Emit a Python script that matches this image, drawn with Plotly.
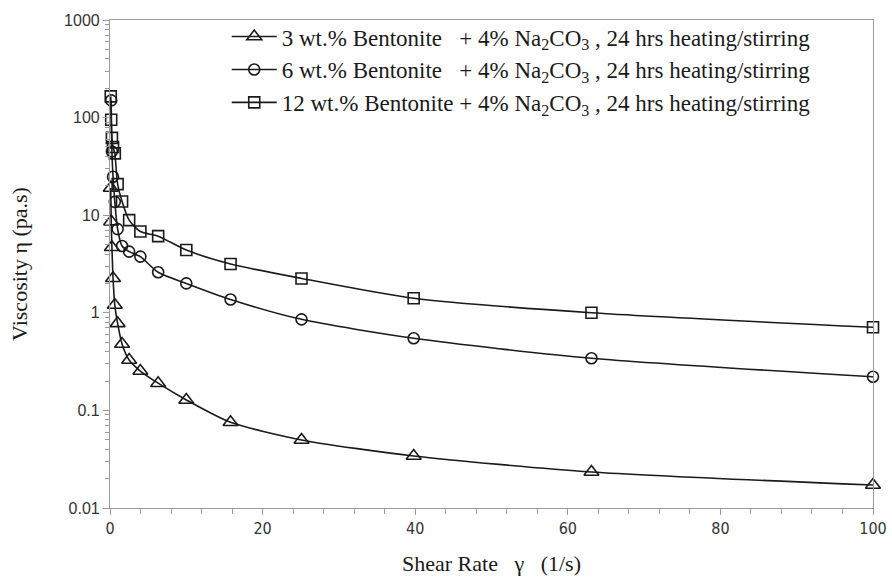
import plotly.graph_objects as go

# Shear rates (1/s)
shear_rate = [0.1, 0.158, 0.251, 0.398, 0.631, 1.0, 1.58, 2.51, 3.98, 6.31,
              10.0, 15.8, 25.1, 39.8, 63.1, 100.0]

# Viscosity (Pa.s)
visc_3 = [19.0, 8.6, 4.7, 2.26, 1.2, 0.78, 0.479, 0.328, 0.253, 0.19,
          0.128, 0.0755, 0.0498, 0.0341, 0.0234, 0.0172]
visc_6_x = [0.158, 0.251, 0.398, 0.631, 1.0, 1.58, 2.51, 3.98, 6.31,
            10.0, 15.8, 25.1, 39.8, 63.1, 100.0]
visc_6 = [150.0, 45.0, 24.8, 13.7, 7.2, 4.83, 4.23, 3.76, 2.6,
          2.0, 1.37, 0.857, 0.548, 0.342, 0.221]
visc_12 = [165.0, 95.0, 62.0, 50.0, 43.0, 20.8, 13.8, 8.9, 6.8, 6.1,
           4.4, 3.16, 2.25, 1.41, 1.0, 0.71]

series_names = [
    "3 wt.% Bentonite\u00a0\u00a0\u00a0+ 4% Na<sub>2</sub>CO<sub>3</sub> , 24 hrs heating/stirring",
    "6 wt.% Bentonite\u00a0\u00a0\u00a0+ 4% Na<sub>2</sub>CO<sub>3</sub> , 24 hrs heating/stirring",
    "12 wt.% Bentonite\u00a0+ 4% Na<sub>2</sub>CO<sub>3</sub> , 24 hrs heating/stirring",
]

y_tickvals = [0.01, 0.1, 1, 10, 100, 1000]
y_ticktext = ["0.01", "0.1", "1", "10", "100", "1000"]
x_tickvals = [0, 20, 40, 60, 80, 100]

SERIF = "Liberation Serif, Times New Roman, serif"

fig = go.Figure()

line_style = dict(color="#1a1a1a", width=1.6, shape="spline", smoothing=0.7)

fig.add_trace(go.Scatter(
    x=shear_rate, y=visc_3, mode="lines+markers", name=series_names[0],
    line=line_style, cliponaxis=False,
    marker=dict(symbol="triangle-up-open", size=13, color="#1a1a1a",
                line=dict(width=1.6, color="#1a1a1a")),
))
fig.add_trace(go.Scatter(
    x=visc_6_x, y=visc_6, mode="lines+markers", name=series_names[1],
    line=line_style, cliponaxis=False,
    marker=dict(symbol="circle-open", size=11, color="#1a1a1a",
                line=dict(width=1.6, color="#1a1a1a")),
))
fig.add_trace(go.Scatter(
    x=shear_rate, y=visc_12, mode="lines+markers", name=series_names[2],
    line=line_style, cliponaxis=False,
    marker=dict(symbol="square-open", size=11, color="#1a1a1a",
                line=dict(width=1.6, color="#1a1a1a")),
))

fig.update_layout(
    width=892, height=581,
    margin=dict(l=110, r=19, t=20, b=73, autoexpand=False),
    paper_bgcolor="white", plot_bgcolor="white",
    showlegend=True,
    legend=dict(
        x=0.153, y=1.01, xanchor="left", yanchor="top",
        bgcolor="rgba(0,0,0,0)", borderwidth=0,
        font=dict(family=SERIF, size=23, color="#1a1a1a"),
        itemwidth=45, tracegroupgap=0,
    ),
    xaxis=dict(
        range=[0, 100], tickvals=x_tickvals, automargin=False,
        showline=True, linecolor="#9a9a9a", linewidth=1.2, mirror=True,
        ticks="outside", ticklen=6, tickcolor="#9a9a9a",
        minor=dict(dtick=4, ticks="outside", ticklen=5, tickcolor="#9a9a9a"),
        showgrid=False, zeroline=False,
        tickfont=dict(family="Liberation Sans Narrow, DejaVu Sans Condensed, Liberation Sans", size=16, color="#333"),
        title=dict(text="Shear Rate\u00a0\u00a0\u00a0\u03b3\u00a0\u00a0\u00a0(1/s)",
                   font=dict(family=SERIF, size=22, color="#1a1a1a"),
                   standoff=18),
    ),
    yaxis=dict(
        type="log", range=[-2, 3], tickvals=y_tickvals, ticktext=y_ticktext,
        automargin=False,
        showline=True, linecolor="#9a9a9a", linewidth=1.2, mirror=True,
        ticks="outside", ticklen=6, tickcolor="#9a9a9a",
        minor=dict(ticks="outside", ticklen=4, tickcolor="#9a9a9a", dtick="D1"),
        showgrid=False, zeroline=False,
        tickfont=dict(family="Liberation Sans, Arial", size=16, color="#333"),
        title=dict(text="Viscosity \u03b7 (pa.s)",
                   font=dict(family=SERIF, size=22, color="#1a1a1a"),
                   standoff=30),
    ),
)

fig.write_html("out.html")
